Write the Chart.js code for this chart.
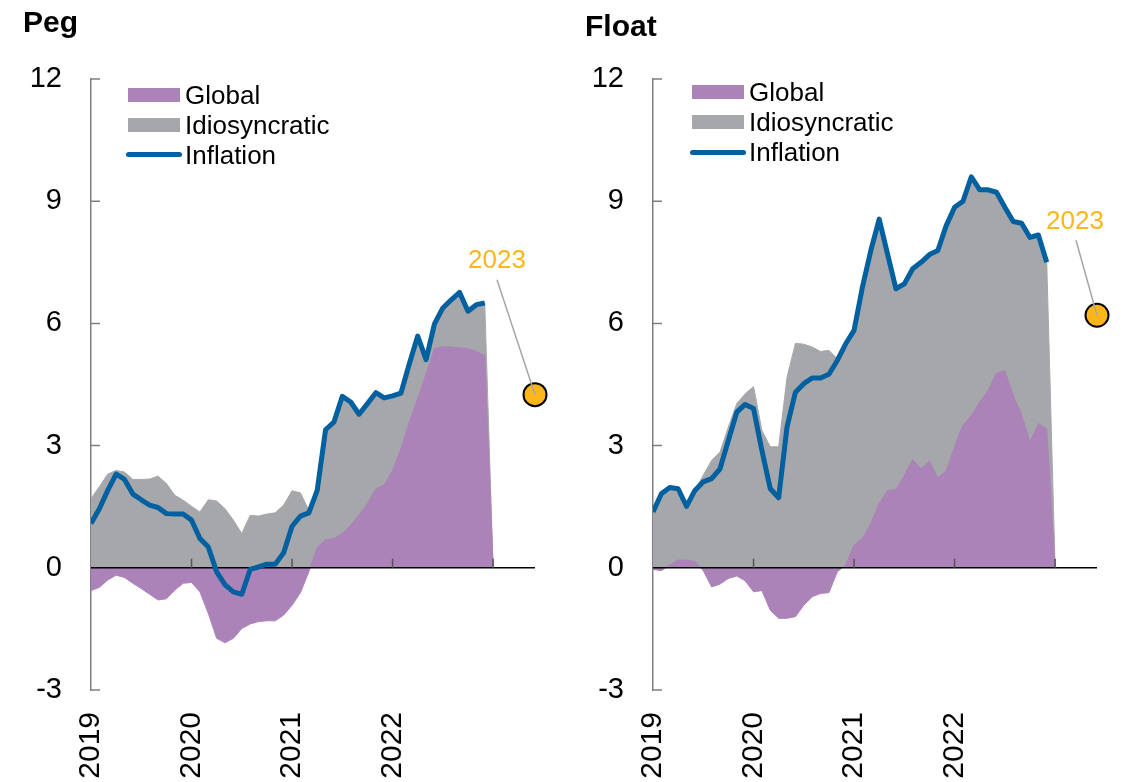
<!DOCTYPE html>
<html>
<head>
<meta charset="utf-8">
<script src="https://cdn.jsdelivr.net/npm/chart.js@4.4.1/dist/chart.umd.min.js"></script>
<style>
  body { margin: 0; background: #fff; font-family: 'Liberation Sans', Arial, sans-serif; }
  #wrap { position: relative; width: 1128px; height: 782px; overflow: hidden; }
  canvas { position: absolute; top: 0; }
  .title { position: absolute; font-weight: bold; font-size: 30px; line-height: 30px; color: #000; }
  .legend { position: absolute; font-size: 26px; color: #000; }
  .legend .row { position: relative; height: 30px; line-height: 30px; padding-left: 57px; white-space: nowrap; }
  .legend .sw { position: absolute; left: 0; top: 8px; width: 52px; height: 14px; }
  .legend .ln { position: absolute; left: -2px; top: 12.5px; width: 56px; height: 5px; border-radius: 3px; }
</style>
</head>
<body>
<div id="wrap">
  <canvas id="peg" width="564" height="782" style="left:0"></canvas>
  <canvas id="float" width="564" height="782" style="left:562px"></canvas>
  <div class="title" style="left:23px; top:7px">Peg</div>
  <div class="title" style="left:585px; top:11px">Float</div>
  <div class="legend" id="legPeg" style="left:128px; top:79.5px"></div>
  <div class="legend" id="legFloat" style="left:692px; top:77px"></div>
</div>
<script>
// monthly data, Jan 2019 .. Dec 2022, plus the drop to zero at Jan 2023
const pegGlobal = [-0.56, -0.48, -0.30, -0.18, -0.24, -0.38, -0.51, -0.65, -0.79, -0.76, -0.55, -0.38,
  -0.36, -0.59, -1.12, -1.73, -1.84, -1.73, -1.49, -1.38, -1.32, -1.30, -1.30, -1.16,
  -0.92, -0.61, -0.10, 0.50, 0.69, 0.72, 0.84, 1.05, 1.29, 1.58, 1.94, 2.03,
  2.39, 2.92, 3.58, 4.15, 4.76, 5.38, 5.43, 5.42, 5.40, 5.38, 5.31, 5.21, 0];
const pegIdio = [1.70, 1.99, 2.30, 2.39, 2.35, 2.17, 2.17, 2.18, 2.25, 2.07, 1.78, 1.66,
  1.51, 1.37, 1.67, 1.64, 1.45, 1.17, 0.84, 1.29, 1.27, 1.32, 1.35, 1.54,
  1.89, 1.84, 1.41, 1.40, 2.70, 2.86, 3.37, 3.02, 2.48, 2.45, 2.36, 2.14,
  1.83, 1.37, 1.43, 1.54, 0.35, 0.61, 0.95, 1.16, 1.36, 0.92, 1.15, 1.29, 0];
const pegInflation = [1.09, 1.45, 1.90, 2.30, 2.17, 1.81, 1.67, 1.54, 1.48, 1.33, 1.32, 1.32,
  1.17, 0.72, 0.51, -0.10, -0.42, -0.59, -0.65, -0.04, 0.02, 0.09, 0.09, 0.37,
  1.02, 1.27, 1.35, 1.90, 3.39, 3.58, 4.21, 4.07, 3.77, 4.03, 4.30, 4.17,
  4.22, 4.29, 5.01, 5.69, 5.11, 5.99, 6.38, 6.58, 6.76, 6.30, 6.46, 6.50];
const peg2023 = 4.25;

const floatGlobal = [-0.04, -0.07, 0.07, 0.19, 0.19, 0.15, -0.07, -0.47, -0.40, -0.26, -0.20, -0.32,
  -0.59, -0.56, -1.04, -1.24, -1.24, -1.20, -0.92, -0.71, -0.63, -0.61, -0.10, 0.07,
  0.56, 0.72, 1.09, 1.58, 1.90, 1.92, 2.27, 2.66, 2.43, 2.62, 2.21, 2.38,
  2.97, 3.50, 3.74, 4.07, 4.35, 4.78, 4.84, 4.23, 3.76, 3.09, 3.54, 3.42, 0];
const floatIdio = [1.41, 1.89, 1.90, 1.75, 1.32, 1.75, 2.27, 2.64, 2.84, 3.46, 4.03, 4.27,
  4.45, 3.37, 2.97, 2.97, 4.68, 5.51, 5.49, 5.42, 5.31, 5.34, 5.13, 5.43,
  5.27, 6.17, 6.70, 6.98, 5.80, 4.93, 4.70, 4.68, 5.07, 5.07, 5.58, 6.02,
  5.88, 5.50, 5.86, 5.21, 4.93, 4.44, 4.01, 4.27, 4.70, 5.02, 4.63, 4.08, 0];
const floatInflation = [1.37, 1.82, 1.97, 1.94, 1.51, 1.90, 2.11, 2.19, 2.43, 3.13, 3.82, 4.01,
  3.91, 2.88, 1.94, 1.72, 3.46, 4.31, 4.52, 4.66, 4.66, 4.75, 5.09, 5.50,
  5.83, 6.89, 7.79, 8.56, 7.70, 6.85, 6.97, 7.34, 7.50, 7.69, 7.79, 8.40,
  8.85, 9.00, 9.60, 9.28, 9.28, 9.22, 8.85, 8.50, 8.46, 8.11, 8.17, 7.50];
const float2023 = 6.2;

const yearTicks = [0, 12, 24, 36, 48];          // month index of each January
const yearLabels = ['2019', '2020', '2021', '2022', ''];
const projMonth = 53;                            // where the 2023 dot sits
const projLabel = '2023';

const PURPLE = '#AB83B9', GRAY = '#A6A7AA', BLUE = '#0060A0', ORANGE = '#FDB61A';
const FONT = "'Liberation Sans', Arial, sans-serif";

Chart.defaults.font.family = FONT;
Chart.defaults.color = '#000';

// legends
function legend(id) {
  const el = document.getElementById(id);
  el.innerHTML =
    '<div class="row"><span class="sw" style="background:' + PURPLE + '"></span>Global</div>' +
    '<div class="row"><span class="sw" style="background:' + GRAY + '"></span>Idiosyncratic</div>' +
    '<div class="row"><span class="ln" style="background:' + BLUE + '"></span>Inflation</div>';
}
legend('legPeg');
legend('legFloat');

// zero line + inward tick marks, and the 2023 callout
const decor = {
  id: 'decor',
  afterDatasetDraw(chart, args) {
    if (args.index !== 0) return;
    const { ctx, chartArea: a, scales: { x, y } } = chart;
    const y0 = y.getPixelForValue(0);
    ctx.save();
    ctx.lineWidth = 1.5;
    ctx.strokeStyle = '#7F7F7F';
    ctx.beginPath();
    y.ticks.forEach(t => {
      const py = y.getPixelForValue(t.value);
      ctx.moveTo(a.left, py); ctx.lineTo(a.left + 9, py);
    });
    ctx.stroke();
    ctx.strokeStyle = '#000';
    ctx.beginPath();
    ctx.moveTo(a.left, y0);
    ctx.lineTo(a.right, y0);
    ctx.stroke();
    ctx.strokeStyle = '#555';
    ctx.beginPath();
    x.ticks.forEach(t => {
      const px = x.getPixelForValue(t.value);
      if (px > a.left + 2) { ctx.moveTo(px, y0); ctx.lineTo(px, y0 - 9); }
    });
    ctx.stroke();
    ctx.restore();
  },
  afterDatasetsDraw(chart, args, opts) {
    const { ctx } = chart;
    const p = chart.getDatasetMeta(3).data[0];
    ctx.save();
    ctx.strokeStyle = '#A6A6A6';
    ctx.lineWidth = 1.5;
    ctx.beginPath();
    ctx.moveTo(p.x + opts.lineDx, p.y + opts.lineDy);
    ctx.lineTo(p.x, p.y);
    ctx.stroke();
    ctx.fillStyle = ORANGE;
    ctx.font = '26px ' + FONT;
    ctx.textAlign = 'center';
    ctx.textBaseline = 'middle';
    ctx.fillText(chart.data.datasets[3].label, p.x + opts.textDx, p.y + opts.textDy);
    ctx.restore();
  }
};

function makeChart(id, globalVals, idioVals, inflVals, proj, note) {
  const pts = arr => arr.map((v, i) => ({ x: i, y: v }));
  return new Chart(document.getElementById(id), {
    type: 'line',
    data: {
      datasets: [
        { label: 'Global', data: pts(globalVals), stack: 'decomp', order: 2, fill: 'origin',
          backgroundColor: PURPLE, borderColor: PURPLE, borderWidth: 1, pointRadius: 0, tension: 0 },
        { label: 'Idiosyncratic', data: pts(idioVals), stack: 'decomp', order: 3, fill: 'origin',
          backgroundColor: GRAY, borderColor: GRAY, borderWidth: 1, pointRadius: 0, tension: 0 },
        { label: 'Inflation', data: pts(inflVals), stack: 'infl', order: 1, fill: false,
          borderColor: BLUE, borderWidth: 5, borderJoinStyle: 'round', pointRadius: 0, tension: 0 },
        { label: projLabel, data: [{ x: projMonth, y: proj }], stack: 'proj', order: 0, showLine: false,
          clip: false, pointRadius: 11.5, pointBorderWidth: 2,
          pointBackgroundColor: ORANGE, pointBorderColor: '#000' }
      ]
    },
    options: {
      responsive: false,
      animation: false,
      layout: { padding: { top: 79, right: 29, left: 0, bottom: 0 } },
      plugins: {
        legend: { display: false },
        tooltip: { enabled: false },
        decor: note
      },
      scales: {
        x: {
          type: 'linear',
          min: 0,
          max: projMonth,
          grid: { display: false, drawTicks: false, tickLength: 0 },
          border: { display: false },
          afterBuildTicks: s => { s.ticks = yearTicks.map(v => ({ value: v })); },
          afterFit: s => { s.height = 92; },
          ticks: {
            autoSkip: false,
            minRotation: 90,
            maxRotation: 90,
            padding: 22,
            color: '#000',
            font: { size: 30 },
            callback: (v, i) => yearLabels[i]
          }
        },
        y: {
          stacked: true,
          min: -3,
          max: 12,
          grid: { display: false, drawTicks: false, tickLength: 0 },
          border: { display: true, color: '#7F7F7F', width: 1.5 },
          afterFit: s => { s.width = 91; },
          ticks: { stepSize: 3, padding: 29, color: '#000', font: { size: 29 } }
        }
      }
    },
    plugins: [decor]
  });
}

makeChart('peg', pegGlobal, pegIdio, pegInflation, peg2023,
  { lineDx: -38, lineDy: -115, textDx: -38, textDy: -134 });
makeChart('float', floatGlobal, floatIdio, floatInflation, float2023,
  { lineDx: -21, lineDy: -75, textDx: -22, textDy: -93 });
</script>
</body>
</html>
